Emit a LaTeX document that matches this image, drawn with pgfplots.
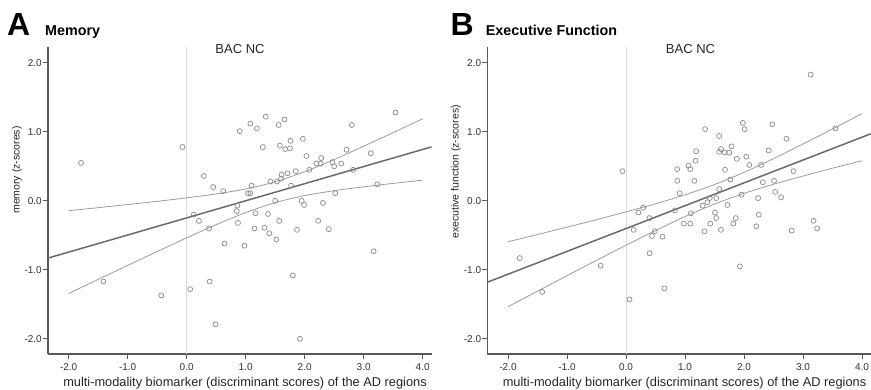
\documentclass[border=0pt]{standalone}
\usepackage{fontspec}
\setmainfont{Liberation Sans}
\usepackage{pgfplots}
\pgfplotsset{compat=1.18}
\definecolor{axisgray}{HTML}{5A5A5A}
\definecolor{ptgray}{HTML}{8A8A8A}
\definecolor{fitgray}{HTML}{6A6A6A}
\definecolor{bandgray}{HTML}{9C9C9C}
\definecolor{zerogray}{HTML}{DDDDDD}
\pgfplotsset{panel/.style={
  scale only axis, width=383.5pt, height=307pt,
  xmin=-2.35, xmax=4.15, ymin=-2.22, ymax=2.23,
  axis lines=left,
  axis line style={draw=axisgray, line width=1.1pt, -},
  xtick={-2,-1,0,1,2,3,4}, ytick={-2,-1,0,1,2},
  tick align=outside, major tick length=5pt,
  tick style={draw=axisgray, line width=0.9pt},
  every tick label/.append style={font=\fontsize{10}{12}\selectfont, text=black!80},
  xticklabel style={inner sep=1pt, yshift=-3pt},
  yticklabel style={inner sep=1pt},
  /pgf/number format/fixed, /pgf/number format/fixed zerofill,
  /pgf/number format/precision=1, /pgf/number format/assume math mode=true,
  clip=false,
}}
\begin{document}
\begin{tikzpicture}
\useasboundingbox (0pt,0pt) rectangle (871pt,390pt);
% ---------------- Panel A ----------------
\begin{axis}[panel, at={(48pt,36pt)}, anchor=south west]
\addplot[zerogray, line width=0.8pt] coordinates {(0,-2.22) (0,2.23)};
\addplot[only marks, mark=o, mark size=2.5pt, mark options={draw=ptgray, line width=0.7pt}] coordinates {
(-1.79,0.55) (-1.41,-1.17) (-0.43,-1.37) (-0.07,0.78) (0.06,-1.28) (0.12,-0.20) (0.21,-0.29) (0.29,0.36)
(0.38,-0.40) (0.39,-1.17) (0.45,0.20) (0.49,-1.79) (0.62,0.14) (0.64,-0.62) (0.85,-0.15) (0.86,-0.07)
(0.87,-0.32) (0.90,1.01) (0.98,-0.65) (1.04,0.11) (1.08,0.11) (1.08,1.12) (1.10,0.22) (1.15,-0.40)
(1.17,-0.18) (1.19,1.05) (1.29,0.78) (1.32,-0.39) (1.34,1.22) (1.38,-0.19) (1.40,-0.47) (1.42,0.28)
(1.50,0.00) (1.52,-0.56) (1.53,0.28) (1.56,1.10) (1.57,-0.29) (1.58,0.80) (1.60,0.32) (1.61,0.38)
(1.66,1.18) (1.67,0.75) (1.71,0.40) (1.75,0.76) (1.76,0.87) (1.77,0.22) (1.80,-1.08) (1.85,0.43)
(1.87,-0.42) (1.92,-2.00) (1.95,0.00) (1.97,0.90) (1.99,-0.06) (2.03,0.65) (2.08,0.45) (2.20,0.54)
(2.23,-0.29) (2.27,0.54) (2.28,0.62) (2.31,-0.03) (2.41,-0.41) (2.47,0.56) (2.50,0.50) (2.52,0.11)
(2.62,0.54) (2.71,0.74) (2.80,1.10) (2.82,0.45) (3.12,0.69) (3.17,-0.73) (3.23,0.24) (3.54,1.28)};
\addplot[bandgray, line width=0.8pt, smooth] coordinates {
(-2,-0.143) (-1.5,-0.099) (-1,-0.054) (-0.5,-0.007) (0,0.043) (0.5,0.100) (1,0.172) (1.5,0.276)
(2,0.422) (2.5,0.599) (3,0.791) (3.5,0.989) (4,1.190)};
\addplot[bandgray, line width=0.8pt, smooth] coordinates {
(-2,-1.343) (-1.5,-1.139) (-1,-0.936) (-0.5,-0.735) (0,-0.537) (0.5,-0.346) (1,-0.170) (1.5,-0.026)
(2,0.076) (2.5,0.147) (3,0.203) (3.5,0.253) (4,0.300)};
\addplot[fitgray, line width=1.5pt] coordinates {(-2.35,-0.830) (4.15,0.782)};
\end{axis}
% ---------------- Panel B ----------------
\begin{axis}[panel, at={(487.3pt,36pt)}, anchor=south west]
\addplot[zerogray, line width=0.8pt] coordinates {(0,-2.22) (0,2.23)};
\addplot[only marks, mark=o, mark size=2.5pt, mark options={draw=ptgray, line width=0.7pt}] coordinates {
(-1.80,-0.83) (-1.42,-1.32) (-0.43,-0.94) (-0.06,0.43) (0.06,-1.43) (0.13,-0.42) (0.21,-0.17) (0.29,-0.10)
(0.40,-0.25) (0.40,-0.76) (0.44,-0.51) (0.49,-0.44) (0.62,-0.52) (0.65,-1.27) (0.83,-0.14) (0.87,0.46)
(0.87,0.29) (0.91,0.11) (0.98,-0.33) (1.06,0.51) (1.09,0.46) (1.09,-0.33) (1.10,-0.18) (1.16,0.29)
(1.18,0.58) (1.19,0.72) (1.30,-0.07) (1.33,-0.44) (1.34,1.04) (1.38,-0.02) (1.42,0.04) (1.43,-0.33)
(1.51,-0.17) (1.53,0.04) (1.53,-0.25) (1.58,0.94) (1.58,0.71) (1.58,0.17) (1.61,0.75) (1.61,-0.42)
(1.67,0.70) (1.68,0.45) (1.72,-0.06) (1.75,0.70) (1.77,0.31) (1.79,0.79) (1.82,-0.33) (1.86,-0.25)
(1.88,0.61) (1.93,-0.95) (1.96,0.09) (1.98,1.13) (2.01,1.04) (2.04,0.64) (2.09,0.52) (2.21,-0.37)
(2.24,0.04) (2.25,-0.20) (2.29,0.52) (2.32,0.27) (2.42,0.73) (2.48,1.11) (2.51,0.29) (2.53,0.13)
(2.63,0.05) (2.72,0.90) (2.81,-0.43) (2.84,0.43) (3.13,1.83) (3.18,-0.29) (3.24,-0.40) (3.55,1.05)};
\addplot[bandgray, line width=0.8pt, smooth] coordinates {
(-2,-0.593) (-1.5,-0.488) (-1,-0.381) (-0.5,-0.273) (0,-0.160) (0.5,-0.043) (1,0.087) (1.5,0.236)
(2,0.412) (2.5,0.612) (3,0.823) (3.5,1.041) (4,1.263)};
\addplot[bandgray, line width=0.8pt, smooth] coordinates {
(-2,-1.535) (-1.5,-1.310) (-1,-1.085) (-0.5,-0.863) (0,-0.644) (0.5,-0.431) (1,-0.229) (1.5,-0.046)
(2,0.108) (2.5,0.240) (3,0.359) (3.5,0.473) (4,0.581)};
\addplot[fitgray, line width=1.5pt] coordinates {(-2.35,-1.180) (4.15,0.972)};
\end{axis}
% ---------------- Texts ----------------
\node[anchor=base west, inner sep=0pt, font=\fontsize{32}{32}\selectfont\bfseries] at (7pt,354pt) {A};
\node[anchor=base west, inner sep=0pt, font=\fontsize{14.3}{16}\selectfont\bfseries] at (45pt,354pt) {Memory};
\node[anchor=base west, inner sep=0pt, font=\fontsize{32}{32}\selectfont\bfseries] at (450.5pt,354pt) {B};
\node[anchor=base west, inner sep=0pt, font=\fontsize{14.3}{16}\selectfont\bfseries] at (485.7pt,354pt) {Executive Function};
\node[anchor=base, inner sep=0pt, font=\fontsize{13}{15}\selectfont, text=black!85] at (240pt,336pt) {BAC NC};
\node[anchor=base, inner sep=0pt, font=\fontsize{13}{15}\selectfont, text=black!85] at (690.5pt,336pt) {BAC NC};
\node[rotate=90, inner sep=0pt, font=\fontsize{10.5}{12}\selectfont, text=black!85] at (17pt,220pt) {memory (z-scores)};
\node[rotate=90, inner sep=0pt, font=\fontsize{10.5}{12}\selectfont, text=black!85] at (456pt,218pt) {executive function (z-scores)};
\node[anchor=base, inner sep=0pt, font=\fontsize{12.8}{15}\selectfont, text=black!85] at (245pt,3pt) {multi-modality biomarker (discriminant scores) of the AD regions};
\node[anchor=base, inner sep=0pt, font=\fontsize{12.8}{15}\selectfont, text=black!85] at (684.5pt,3pt) {multi-modality biomarker (discriminant scores) of the AD regions};
\end{tikzpicture}
\end{document}
